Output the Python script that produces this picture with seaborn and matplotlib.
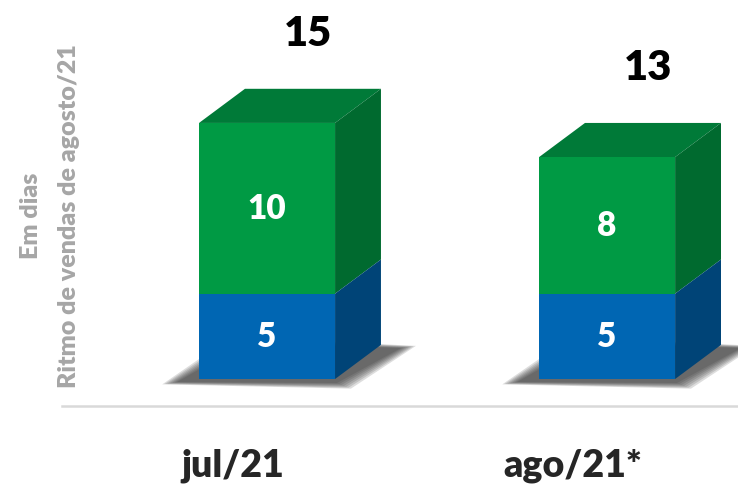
import matplotlib
matplotlib.use('Agg')
import matplotlib.pyplot as plt
import numpy as np
import pandas as pd
import seaborn as sns
from matplotlib.patches import Polygon
from matplotlib.transforms import ScaledTranslation

# data
categories = ['jul/21', 'ago/21*']
base_days = [5, 5]      # blue segment
extra_days = [10, 8]    # green segment

df = pd.DataFrame({'mes': categories, 'base': base_days, 'extra': extra_days})
df['total'] = df['base'] + df['extra']

# colours
green_front = '#009a44'
green_top = '#007a38'
green_side = '#006a2f'
blue_front = '#0066b3'
blue_side = '#004477'
grey_text = '#a6a6a6'

sns.set_style('white')
plt.rcParams['font.family'] = ['Lato', 'DejaVu Sans']

fig = plt.figure(figsize=(7.38, 4.89), dpi=100)
ax = fig.add_axes([62 / 738, 82 / 489, 676 / 738, 407 / 489])

# front faces: full stack in green, base drawn over it in blue
sns.barplot(data=df, x='mes', y='total', color=green_front, saturation=1,
            width=0.4, linewidth=0, errorbar=None, ax=ax, zorder=3)
sns.barplot(data=df, x='mes', y='base', color=blue_front, saturation=1,
            width=0.4, linewidth=0, errorbar=None, ax=ax, zorder=3)

ax.set_xlim(-0.603, 1.385)
ax.set_ylim(-1.58, 22.26)

n = len(df)
green_patches = ax.patches[:n]
blue_patches = ax.patches[n:2 * n]

# depth of the fake 3d boxes (data units)
dx, dy = 0.135, 2.0
# pixel -> data factors (axes is 676 x 407 px)
px_x = (1.385 + 0.603) / 676
px_y = (22.26 + 1.58) / 407

for gp, bp in zip(green_patches, blue_patches):
    x0 = gp.get_x()
    w = gp.get_width()
    top = gp.get_height()
    mid = bp.get_height()

    # soft shadow under the box, built in pixel offsets from the front corner
    shadow_px = np.array([(-22, -3), (138, -4), (202, 31), (46, 36)], float)
    centre = shadow_px.mean(axis=0)
    for k in range(6, -1, -1):
        d = shadow_px - centre
        d = d / np.linalg.norm(d, axis=1, keepdims=True)
        pts = shadow_px + d * k * 2.5
        pts_data = [(x0 + px * px_x, py * px_y) for px, py in pts]
        ax.add_patch(Polygon(pts_data, closed=True, fc='#2e2e2e', lw=0,
                             alpha=0.16, zorder=1))

    # top face
    ax.add_patch(Polygon([(x0, top), (x0 + w, top), (x0 + w + dx, top + dy),
                          (x0 + dx, top + dy)], closed=True, fc=green_top,
                         lw=0, zorder=2))
    # side faces
    ax.add_patch(Polygon([(x0 + w, mid), (x0 + w + dx, mid + dy),
                          (x0 + w + dx, top + dy), (x0 + w, top)], closed=True,
                         fc=green_side, lw=0, zorder=2))
    ax.add_patch(Polygon([(x0 + w, 0), (x0 + w + dx, dy),
                          (x0 + w + dx, mid + dy), (x0 + w, mid)], closed=True,
                         fc=blue_side, lw=0, zorder=2))

    # segment labels
    cx = x0 + w / 2
    ax.text(cx, mid / 2, f'{mid:g}', ha='center', va='center', color='white',
            fontsize=24, fontweight='heavy', zorder=5)
    ax.text(cx, mid + (top - mid) / 2, f'{top - mid:g}', ha='center', va='center',
            color='white', fontsize=24, fontweight='heavy', zorder=5)
    # total on top
    ax.text(cx + dx * 0.9, top + 5.25, f'{top:g}', ha='center', va='center',
            color='black', fontsize=30, fontweight='heavy', zorder=5)

ax.set_xlabel('')
ax.set_ylabel('')
ax.set_yticks([])

for s in ['top', 'right', 'left']:
    ax.spines[s].set_visible(False)
ax.spines['bottom'].set_color('#d9d9d9')
ax.spines['bottom'].set_linewidth(1.8)

ax.tick_params(axis='x', length=0, pad=30, labelsize=27)
shift = ScaledTranslation(-0.34, 0, fig.dpi_scale_trans)
for lab in ax.get_xticklabels():
    lab.set_fontweight('heavy')
    lab.set_transform(lab.get_transform() + shift)

# axis title, two rotated lines
fig.text(69 / 738, 1 - 216 / 489, 'Ritmo de vendas de agosto/21', rotation=90,
         ha='center', va='center', color=grey_text, fontsize=18, fontweight='heavy')
fig.text(31 / 738, 1 - 216 / 489, 'Em dias', rotation=90,
         ha='center', va='center', color=grey_text, fontsize=18, fontweight='heavy')

fig.savefig('out.png', dpi=100)
